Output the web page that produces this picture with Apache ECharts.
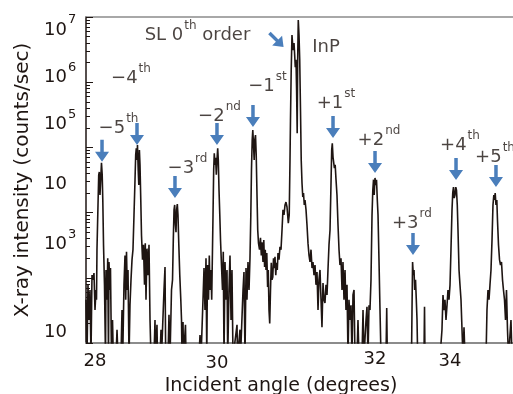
<!DOCTYPE html>
<html><head><meta charset="utf-8">
<script src="https://cdn.jsdelivr.net/npm/echarts@6/dist/echarts.min.js"></script>
<style>html,body{margin:0;padding:0;background:#fff}#c{width:513px;height:394px}</style>
</head><body><div id="c"></div>
<script>
// ---- data (angle in degrees, intensity in counts/sec) ----
const angle = [
27.800,27.817,27.833,27.850,27.867,27.883,27.900,27.917,27.933,27.950,27.967,
27.975,27.983,28.000,28.012,28.022,28.033,28.045,28.058,28.070,28.080,28.092,28.108,28.125,
28.133,28.150,28.162,28.175,28.183,28.200,28.208,28.225,28.242,28.255,28.300,28.317,28.333,28.383,28.400,28.412,28.433,28.450,28.462,28.475,28.488,28.500,28.517,28.533,28.550,28.567,
28.583,28.600,28.617,28.628,28.638,28.650,28.658,28.670,28.680,28.690,28.700,28.713,28.725,28.742,28.758,28.775,28.788,28.800,28.817,28.833,28.850,28.867,28.883,
28.933,28.950,28.958,28.983,28.992,29.033,29.050,29.058,29.100,29.117,29.128,29.167,29.183,29.200,29.225,
29.242,29.255,29.267,29.278,29.290,29.300,29.310,29.322,29.333,29.347,29.363,29.380,29.392,29.400,29.417,29.425,29.458,29.467,
29.683,29.700,29.717,29.750,29.767,29.783,29.800,29.813,29.825,29.842,29.855,29.867,29.883,29.895,29.908,
29.917,29.928,29.938,29.950,29.960,29.972,29.983,29.995,30.005,30.017,30.030,30.042,30.058,30.075,30.088,30.100,30.117,30.133,30.150,30.162,30.183,30.200,30.217,30.233,30.250,
30.283,30.317,30.325,30.367,30.375,30.417,30.433,30.450,30.467,30.483,30.500,30.517,
30.533,30.547,30.558,30.570,30.580,30.592,30.603,30.613,30.625,30.637,30.650,30.662,30.675,
30.692,30.708,30.722,30.733,30.750,30.763,30.777,30.788,30.800,30.813,30.827,30.838,30.850,30.862,30.875,30.888,30.900,30.913,30.925,30.938,30.950,30.963,30.975,30.988,31.000,31.017,31.033,31.050,31.067,31.083,31.100,31.117,31.133,31.150,31.172,31.187,31.200,
31.208,31.220,31.233,31.245,31.255,31.267,31.278,31.288,31.300,31.310,31.320,31.328,31.338,31.350,31.362,31.375,31.387,31.400,31.413,31.425,31.438,31.450,31.467,31.483,31.500,31.517,
31.533,31.550,31.567,31.583,31.600,31.617,31.633,31.650,31.667,31.683,31.700,31.717,31.733,31.750,31.767,31.783,31.800,31.817,31.833,31.850,
31.867,31.883,31.895,31.905,31.917,31.928,31.940,31.953,31.967,31.983,32.000,32.017,32.033,
32.050,32.067,32.083,32.100,32.117,32.133,32.150,32.167,32.183,32.200,32.217,32.233,32.250,32.267,32.283,32.317,32.333,32.350,32.400,32.417,32.433,32.467,32.483,32.500,32.517,32.533,
32.550,32.567,32.580,32.592,32.603,32.617,32.628,32.642,32.655,32.667,32.683,32.700,32.717,
32.800,32.812,32.822,33.225,
33.233,33.243,33.255,33.267,33.278,33.292,33.305,33.317,33.328,33.433,33.442,33.450,
33.700,33.733,33.750,33.767,33.783,33.800,33.817,33.833,33.850,33.867,
33.883,33.900,33.913,33.925,33.937,33.950,33.963,33.975,33.988,34.000,34.017,34.033,34.050,34.067,34.083,34.100,34.117,
34.467,34.483,34.500,34.517,34.533,
34.550,34.567,34.583,34.597,34.608,34.620,34.633,34.647,34.658,34.675,34.692,34.708,34.725,34.742,34.758,34.775,34.792,34.808,34.825,34.842,34.867,34.883,34.900,34.917
];
const intensity = [
460,60,780,225,650,60,1100,930,1180,320,650,
460,2700,13100,38000,42000,18600,32000,58000,38000,15600,3200,780,60,
1320,460,2000,60,1750,650,1410,60,225,60,60,160,60,60,320,60,780,2200,460,2500,650,1320,60,380,930,1900,
2700,9200,32000,76000,97000,64000,109000,45000,26500,91000,54000,15600,4500,1900,3200,780,3400,460,2800,1100,3200,225,60,
60,225,60,190,60,60,160,60,650,1460,60,60,270,60,650,
930,3800,11000,13100,6500,5000,11000,13500,9200,3200,1100,460,225,60,210,60,190,60,
60,133,60,460,1410,320,2000,60,1570,460,2200,650,1320,460,2700,
9200,45000,81000,54000,69000,38000,64000,97000,64000,22000,9200,3800,1570,650,2500,60,1750,460,1320,60,650,2200,225,1320,60,
60,190,60,160,60,650,1230,60,1410,460,1750,650,
2000,9200,45000,130000,185000,109000,64000,130000,155000,76000,18600,5400,3400,
2700,4100,2200,3500,1750,3800,1460,2700,1320,2400,720,1320,320,200,650,1700,930,1030,2000,1410,2100,1100,1700,1320,2400,1900,3000,2700,5400,11000,9200,13100,14500,12200,6900,9200,64000,
260000,1500000,5300000,3700000,3100000,4000000,2600000,1700000,2200000,760000,165000,2200000,9000000,5300000,2200000,370000,64000,28500,17300,20000,13100,15600,11000,6500,3400,2200,
1750,2700,1410,1750,1100,1570,780,1230,320,930,1320,460,175,830,460,410,780,545,1320,3200,
5400,26500,91000,116000,71000,76000,48000,54000,32000,18600,6500,2700,1570,
2000,650,1750,460,1320,320,780,60,460,225,380,60,545,650,60,60,225,60,60,320,60,225,360,60,380,320,
930,9200,22000,32000,18600,34000,26500,32000,15600,9200,1900,320,60,
60,345,60,60,
290,1750,1100,1320,650,930,460,225,60,60,360,60,
60,160,545,320,460,225,380,650,460,780,
2700,11000,20500,24600,16700,18600,24600,22000,13100,5400,1320,780,460,160,60,175,60,
60,320,650,460,780,
1320,3800,13100,18600,15600,20000,13100,15600,7700,3200,1900,1570,1750,930,650,460,225,650,160,60,60,225,60,60
];

// satellite order annotations
const orderText = ['\u22125','\u22124','\u22123','\u22122','\u22121','+1','+2','+3','+4','+5'];
const orderSup  = ['th','th','rd','nd','st','st','nd','rd','th','th'];
const labelAngle  = [28.342,28.550,29.492,30.025,30.825,31.967,32.683,33.233,34.033,34.617];
const labelCounts = [1.99e5,1.16e6,4.83e4,3.03e5,8.75e5,4.8e5,1.3e5,6.9e3,1.09e5,7.1e4];
const arrowAngle  = [28.067,28.650,29.283,29.983,30.583,31.917,32.617,33.250,33.967,34.633];
const arrowCounts = [6.0e4,1.09e5,1.67e4,1.09e5,2.06e5,1.39e5,4.05e4,2240,3.16e4,2.46e4];
const slLabel = ['SL 0','th',' order'];
const slAt = [29.658, 5.3e6];
const inpLabel = 'InP';
const inpAt = [31.8, 3.47e6];
const diagArrowAt = [30.975, 4.44e6];

// axes
const xTickValues = [28,30,32,34];
const yTickBase = ['10','10','10','10','10','10'];   // 1e2 .. 1e7
const yTickSup  = ['','3','','5','6','7'];
const minorMantissa = [2,3,4,5,6,7,8,9];
const decadeStarts = [100,1000,1e4,1e5,1e6];
const xName = 'Incident angle (degrees)';
const yName = 'X-ray intensity (counts/sec)';

// ---- styling ----
const INK = '#1e1512', BLUE = '#4a7ebb', GREY = '#8c8c8c', FONT = 'DejaVu Sans';
const arrowPath = 'path://M5.25,0L8.75,0L8.75,12L14,12L7,22L0,12L5.25,12Z';
const yShift = {2:-11,3:-33,4:-28,5:-23,6:-5,7:13};
const xShift = [[-3,3],[-1,5],[37,1],[-8,3]];
function vpad(d, left){ return [Math.max(2*d,0),0,Math.max(-2*d,0),left||0]; }
const yRich = {};
for (let e = 2; e <= 7; e++) {
  const d = yShift[e];
  yRich['b'+e] = {fontSize:18,fontFamily:FONT,color:INK,padding:vpad(d),verticalAlign:'middle'};
  yRich['s'+e] = {fontSize:13,fontFamily:FONT,color:INK,padding:vpad(d-10,1),verticalAlign:'middle'};
}
const xRich = {};
xShift.forEach((s,i)=>{ xRich['x'+i] = {fontSize:18,fontFamily:FONT,color:INK,padding:[s[1],Math.max(-2*s[0],0),0,Math.max(2*s[0],0)]}; });
const minorLogs = [];
decadeStarts.forEach(d => minorMantissa.forEach(m => minorLogs.push(Math.log10(d*m))));

const n = Math.min(angle.length, intensity.length);
const curve = [];
for (let i = 0; i < n; i++) curve.push([angle[i], intensity[i]]);

const annRich = {b:{fontSize:18,fontFamily:FONT,color:INK,verticalAlign:'middle'},
                 s:{fontSize:12,fontFamily:FONT,color:INK,padding:[0,0,18,1],verticalAlign:'middle'}};

const chart = echarts.init(document.getElementById('c'), null, {renderer:'canvas'});
chart.setOption({
  animation: false,
  backgroundColor: '#fff',
  grid: {left: 86, right: 0, top: 17, bottom: 51, containLabel: false, outerBoundsMode: 'none'},
  xAxis: [{
    type:'value', min:27.8, max:34.9167, position:'bottom',
    axisLine:{show:true,onZero:false,lineStyle:{color:GREY,width:2}},
    axisTick:{show:false}, splitLine:{show:false},
    axisLabel:{customValues:xTickValues, margin:6, formatter:v=>{const i=xTickValues.indexOf(Math.round(v));return '{x'+i+'|'+v+'}';}, rich:xRich},
    name:xName, nameLocation:'middle', nameGap:28,
    nameTextStyle:{fontSize:19,fontFamily:FONT,color:INK,padding:[0,37,0,0]}
  },{
    type:'value', min:27.8, max:34.9167, position:'top',
    axisLine:{show:true,onZero:false,lineStyle:{color:GREY,width:1.5}},
    axisTick:{show:false}, axisLabel:{show:false}, splitLine:{show:false}
  }],
  yAxis: [{
    type:'log', logBase:10, min:100, max:1e7, position:'left',
    axisLine:{show:true,onZero:false,lineStyle:{color:INK,width:1.5}},
    axisTick:{show:true,inside:true,length:7,lineStyle:{color:INK,width:1}},
    splitLine:{show:false},
    axisLabel:{align:'left',margin:42,formatter:v=>{const e=Math.round(Math.log10(v));const i=e-2;const s=yTickSup[i];return '{b'+e+'|'+yTickBase[i]+'}'+(s?'{s'+e+'|'+s+'}':'');},rich:yRich},
    name:yName, nameLocation:'middle', nameGap:48,
    nameTextStyle:{fontSize:20,fontFamily:FONT,color:INK}
  },{
    type:'value', min:2, max:7, position:'left',
    axisLine:{show:false}, axisLabel:{show:false}, splitLine:{show:false},
    axisTick:{show:true,inside:true,length:4,customValues:minorLogs,lineStyle:{color:INK,width:1}}
  }],
  series: [{
    type:'line', xAxisIndex:0, yAxisIndex:0, data:curve, symbol:'none', showSymbol:false,
    lineStyle:{color:INK,width:1.6}, clip:true, silent:true, z:2
  },{
    type:'scatter', xAxisIndex:0, yAxisIndex:0, silent:true, z:3,
    data: arrowAngle.map((a,i)=>[a,arrowCounts[i]]),
    symbol:arrowPath, symbolSize:[14,22], symbolOffset:[0,-11], itemStyle:{color:BLUE,opacity:1}
  },{
    type:'scatter', xAxisIndex:0, yAxisIndex:0, silent:true, z:3,
    data:[diagArrowAt], symbol:arrowPath, symbolSize:[14,20], symbolRotate:45, itemStyle:{color:BLUE,opacity:1}
  },{
    type:'scatter', xAxisIndex:0, yAxisIndex:0, silent:true, z:4,
    data: labelAngle.map((a,i)=>[a,labelCounts[i]]),
    symbolSize:1, itemStyle:{color:'rgba(0,0,0,0)'},
    label:{show:true,position:'inside',
      formatter:p=>'{b|'+orderText[p.dataIndex]+'}{s|'+orderSup[p.dataIndex]+'}',
      rich:annRich}
  },{
    type:'scatter', xAxisIndex:0, yAxisIndex:0, silent:true, z:4,
    data:[{value:slAt, name:'sl'},{value:inpAt, name:'inp'}],
    symbolSize:1, itemStyle:{color:'rgba(0,0,0,0)'},
    label:{show:true,position:'inside',
      formatter:p=> p.name==='sl' ? '{b|'+slLabel[0]+'}{s|'+slLabel[1]+'}{b|'+slLabel[2]+'}' : '{b|'+inpLabel+'}',
      rich:annRich}
  }]
});
</script>
</body></html>
